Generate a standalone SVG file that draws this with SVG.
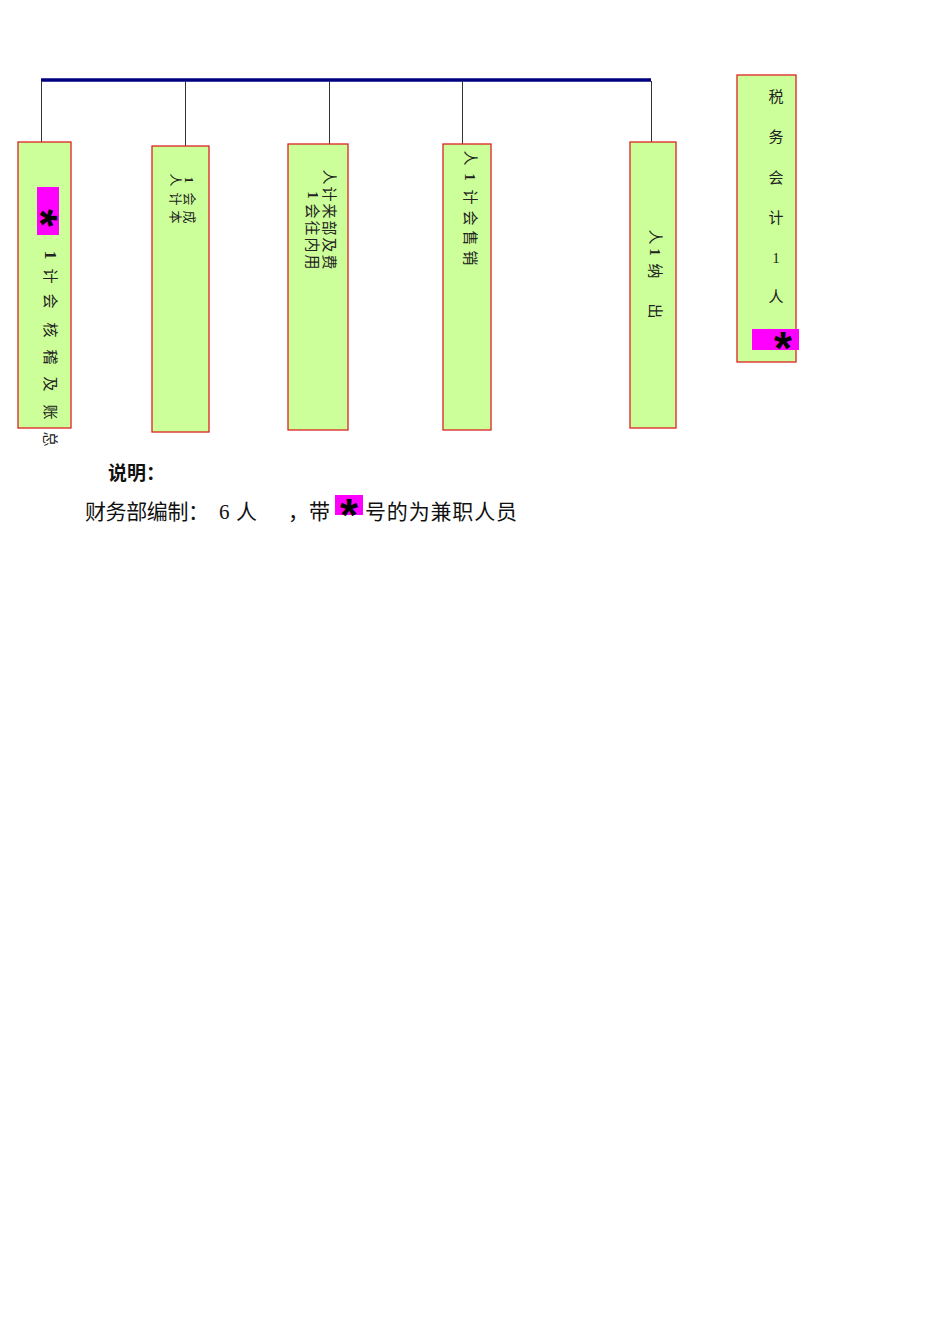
<svg xmlns="http://www.w3.org/2000/svg" width="950" height="1344" viewBox="0 0 950 1344">
<style>
.box{fill:#ccff99;stroke:#dd2222;stroke-width:1.3}
.mag{fill:#ff00ff}
.c{font-family:"Liberation Serif","Noto Sans CJK SC",serif;font-size:15px;fill:#222;text-anchor:middle;dominant-baseline:central}
.c13{font-size:13px}
.b{font-weight:bold}
.ast{font-family:"Liberation Sans",sans-serif;font-weight:bold;font-size:46px;fill:#000;text-anchor:middle}
.note{font-family:"Liberation Serif","Noto Sans CJK SC",serif;font-size:21px;fill:#111}
.vline{stroke:#333;stroke-width:1;fill:none}
</style>
<rect width="950" height="1344" fill="#fff"/>
<g id="connectors">
<line x1="41" y1="80" x2="651" y2="80" stroke="#000080" stroke-width="3.5"/>
<line class="vline" x1="41.5" y1="81" x2="41.5" y2="142"/>
<line class="vline" x1="185.5" y1="81" x2="185.5" y2="146"/>
<line class="vline" x1="329.5" y1="81" x2="329.5" y2="144"/>
<line class="vline" x1="462.5" y1="81" x2="462.5" y2="144"/>
<line class="vline" x1="651.5" y1="81" x2="651.5" y2="142"/>
</g>
<g id="node1">
<rect class="box" x="18" y="142" width="53" height="286"/>
<rect class="mag" x="37" y="187" width="22" height="48"/>
<text class="ast" transform="translate(48,218) rotate(90) translate(0,23)">*</text>
<g class="c">
<text class="b" transform="translate(50,255) rotate(90)" style="font-size:17px">1</text>
<text transform="translate(50,276) rotate(90)">计</text>
<text transform="translate(50,301) rotate(90)">会</text>
<text transform="translate(50,330) rotate(90)">核</text>
<text transform="translate(50,357) rotate(90)">稽</text>
<text transform="translate(50,384) rotate(90)">及</text>
<text transform="translate(50,412) rotate(90)">账</text>
<text transform="translate(50,439) rotate(90)">总</text>
</g>
</g>
<g id="node2">
<rect class="box" x="152" y="146" width="57" height="286"/>
<g class="c c13">
<text transform="translate(175,180) rotate(90)">人</text>
<text transform="translate(175,199) rotate(90)">计</text>
<text transform="translate(175,217) rotate(90)">本</text>
<text class="b" transform="translate(189,180) rotate(90)">1</text>
<text transform="translate(189,199) rotate(90)">会</text>
<text transform="translate(189,217) rotate(90)">成</text>
</g>
</g>
<g id="node3">
<rect class="box" x="288" y="144" width="60" height="286"/>
<g class="c">
<text transform="translate(329,177) rotate(90)">人</text>
<text transform="translate(329,194) rotate(90)">计</text>
<text transform="translate(329,211) rotate(90)">来</text>
<text transform="translate(329,228) rotate(90)">部</text>
<text transform="translate(329,245) rotate(90)">及</text>
<text transform="translate(329,262) rotate(90)">费</text>
<text class="b" transform="translate(313,195) rotate(90)">1</text>
<text transform="translate(312,211) rotate(90)">会</text>
<text transform="translate(312,228) rotate(90)">往</text>
<text transform="translate(312,245) rotate(90)">内</text>
<text transform="translate(312,262) rotate(90)">用</text>
</g>
</g>
<g id="node4">
<rect class="box" x="443" y="144" width="48" height="286"/>
<g class="c">
<text transform="translate(470,158) rotate(90)">人</text>
<text class="b" transform="translate(470,177) rotate(90)">1</text>
<text transform="translate(470,197) rotate(90)">计</text>
<text transform="translate(470,218) rotate(90)">会</text>
<text transform="translate(470,238) rotate(90)">售</text>
<text transform="translate(470,258) rotate(90)">销</text>
</g>
</g>
<g id="node5">
<rect class="box" x="630" y="142" width="46" height="286"/>
<g class="c">
<text transform="translate(655,237) rotate(90)">人</text>
<text class="b" transform="translate(655,252) rotate(90)">1</text>
<text transform="translate(655,271) rotate(90)">纳</text>
<text transform="translate(655,311) rotate(90)">出</text>
</g>
</g>
<g id="node6">
<rect class="box" x="737" y="75" width="59" height="287"/>
<rect class="mag" x="752" y="329" width="47" height="21"/>
<text class="ast" x="783" y="364">*</text>
<g class="c">
<text x="776" y="97">税</text>
<text x="776" y="137">务</text>
<text x="776" y="178">会</text>
<text x="776" y="218">计</text>
<text x="776" y="258">1</text>
<text x="776" y="297">人</text>
</g>
</g>
<g id="legend">
<text class="note b" x="108" y="480" style="font-size:19px">说明：</text>
<text class="note" x="85" y="519" textLength="124" lengthAdjust="spacing">财务部编制：</text>
<text class="note" x="219" y="519">6</text>
<text class="note" x="236" y="519">人</text>
<text class="note" x="288" y="519">，带</text>
<rect class="mag" x="335" y="495" width="28" height="20"/>
<text class="ast" x="349" y="531">*</text>
<text class="note" x="365" y="519" textLength="152" lengthAdjust="spacing">号的为兼职人员</text>
</g>
</svg>
